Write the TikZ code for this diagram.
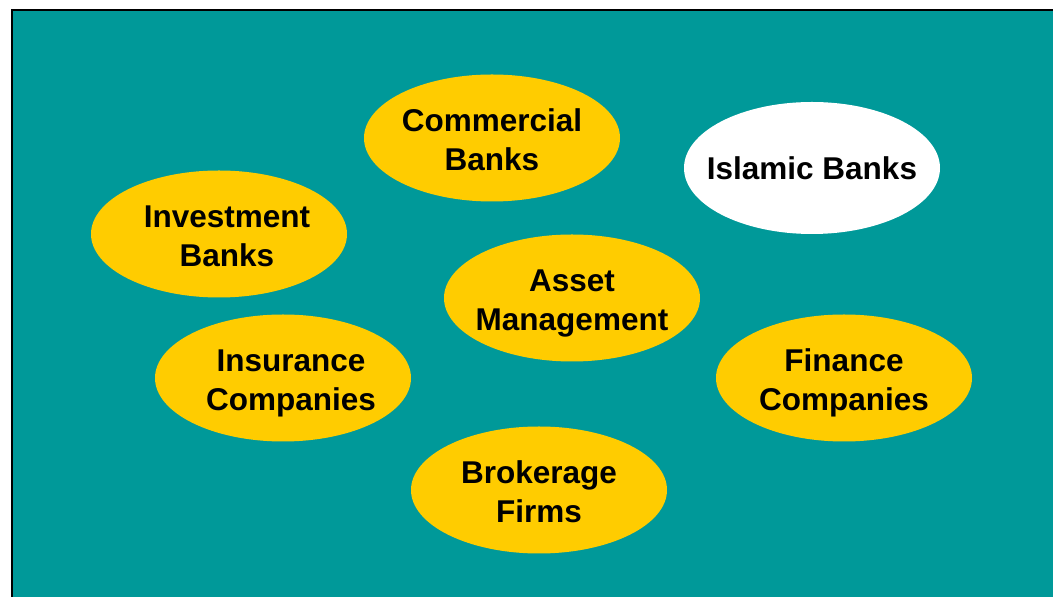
\documentclass[tikz,border=0pt]{standalone}
\usepackage{fontspec}
\setmainfont{Liberation Sans}
\usetikzlibrary{shapes.geometric}
\definecolor{sea}{HTML}{009999}
\definecolor{gold}{HTML}{FFCC00}
\begin{document}
\begin{tikzpicture}[x=1pt,y=1pt,
	bubble/.style={ellipse,fill=gold,inner sep=0,minimum width=256,minimum height=127},
	word/.style={align=center,text depth=0pt,yshift=-2,font=\fontsize{31.5}{39}\selectfont\bfseries}]
	\useasboundingbox (0,0) rectangle (1053,597);
	\draw [fill=sea,line width=2pt] (12,587) rectangle (1070,-20);
	
	\node [bubble] at (492,459) (comm) {};
	\node [bubble,fill=white,minimum height=132] at (812,429) (islam) {};
	\node [bubble] at (219,363) (invest) {};
	\node [bubble] at (572,299) (asset) {};
	\node [bubble] at (283,219) (insur) {};
	\node [bubble] at (844,219) (fin) {};
	\node [bubble] at (539,107) (broker) {};
	
	\node [word] at (comm) {Commercial\\Banks};
	\node [word,yshift=2] at (islam) {Islamic Banks};
	\node [word] at ([xshift=8]invest.center) {Investment\\Banks};
	\node [word] at (asset) {Asset\\Management};
	\node [word] at ([xshift=8]insur.center) {Insurance\\Companies};
	\node [word] at (fin) {Finance\\Companies};
	\node [word] at (broker) {Brokerage\\Firms};
\end{tikzpicture}
\end{document}
